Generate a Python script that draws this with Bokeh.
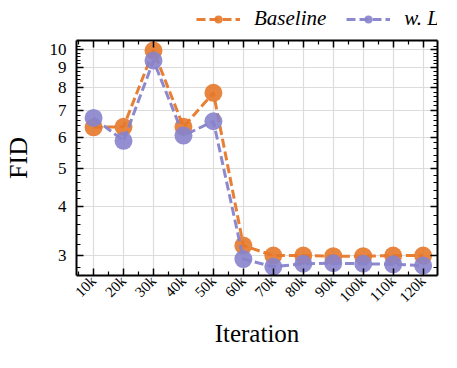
import math
from bokeh.plotting import figure
from bokeh.layouts import column
from bokeh.models import (FixedTicker, LinearAxis, LogAxis, Legend, LegendItem,
                          PrintfTickFormatter, ColumnDataSource)
from bokeh.embed import file_html
from bokeh.resources import INLINE

iterations = [10, 20, 30, 40, 50, 60, 70, 80, 90, 100, 110, 120]
tick_labels = ["10k", "20k", "30k", "40k", "50k", "60k", "70k", "80k", "90k", "100k", "110k", "120k"]
baseline = [6.35, 6.37, 9.95, 6.37, 7.77, 3.18, 3.00, 3.00, 2.99, 2.99, 3.00, 3.00]
lpl = [6.71, 5.87, 9.38, 6.05, 6.58, 2.94, 2.81, 2.86, 2.87, 2.86, 2.85, 2.83]
y_ticks = [3, 4, 5, 6, 7, 8, 9, 10]
y_minor = [2.8, 3.2, 3.4, 3.6, 3.8, 4.2, 4.4, 4.6, 4.8, 5.2, 5.4, 5.6, 5.8,
           6.2, 6.4, 6.6, 6.8, 7.2, 7.4, 7.6, 7.8, 8.2, 8.4, 8.6, 8.8,
           9.2, 9.4, 9.6, 9.8, 10.2]
x_minor = [5, 15, 25, 35, 45, 55, 65, 75, 85, 95, 105, 115, 125]

ORANGE = "#E6782A"
PURPLE = "#8783CB"
FONT = "Liberation Serif"

src = ColumnDataSource(dict(x=iterations, base=baseline, lpl=lpl))

# ---------------- legend strip (above the chart) ----------------
pl = figure(width=441, height=32, x_range=(0, 1), y_range=(0, 1),
            output_backend="svg", toolbar_location=None,
            x_axis_location=None, y_axis_location=None,
            min_border=0, min_border_left=0, min_border_right=0,
            min_border_top=0, min_border_bottom=0)
pl.grid.visible = False
pl.outline_line_color = None
ll1 = pl.line("x", "base", source=src, line_color=ORANGE, line_width=3, line_dash="9 4", line_alpha=0.95)
ls1 = pl.scatter("x", "base", source=src, size=18, fill_color=ORANGE, fill_alpha=0.9, line_color=None)
ll2 = pl.line("x", "lpl", source=src, line_color=PURPLE, line_width=3, line_dash="9 4", line_alpha=0.95)
ls2 = pl.scatter("x", "lpl", source=src, size=18, fill_color=PURPLE, fill_alpha=0.9, line_color=None)

legend = Legend(items=[LegendItem(label="Baseline", renderers=[ll1, ls1]),
                       LegendItem(label="w. LPL", renderers=[ll2, ls2])],
                orientation="horizontal", location=(120, 1))
legend.label_text_font = FONT
legend.label_text_font_style = "italic"
legend.label_text_font_size = "21px"
legend.label_text_color = "black"
legend.border_line_color = None
legend.background_fill_alpha = 0
legend.glyph_width = 44
legend.glyph_height = 20
legend.spacing = 20
legend.label_standoff = 14
legend.padding = 2
legend.margin = 0
pl.add_layout(legend)

# ---------------- main chart ----------------
p = figure(width=441, height=320, y_axis_type="log",
           x_range=(4.3, 124.8), y_range=(2.67, 10.55),
           output_backend="svg", toolbar_location=None,
           min_border_left=69, min_border_top=6, min_border_bottom=77, min_border_right=2)

xt = FixedTicker(ticks=iterations, minor_ticks=x_minor)
yt = FixedTicker(ticks=y_ticks, minor_ticks=y_minor)

def style_axis(ax):
    ax.axis_line_width = 2
    ax.axis_line_color = "black"
    ax.major_tick_in = 7
    ax.major_tick_out = 0
    ax.minor_tick_in = 4
    ax.minor_tick_out = 0
    ax.major_tick_line_width = 1.5
    ax.minor_tick_line_width = 1.2
    ax.major_label_text_font = FONT
    ax.major_label_text_font_size = "16px"
    ax.major_label_text_color = "black"

xa = p.xaxis[0]
xa.ticker = xt
xa.major_label_overrides = {v: t for v, t in zip(iterations, tick_labels)}
xa.major_label_orientation = math.pi / 4
style_axis(xa)
xa.major_label_text_font_size = "15px"
xa.major_label_standoff = 3
xa.axis_label = "Iteration"
xa.axis_label_text_font = FONT
xa.axis_label_text_font_size = "25px"
xa.axis_label_text_font_style = "normal"
xa.axis_label_text_color = "black"
xa.axis_label_standoff = 6

ya = p.yaxis[0]
ya.ticker = yt
ya.formatter = PrintfTickFormatter(format="%d")
style_axis(ya)
ya.major_label_text_font_size = "17px"
ya.major_label_standoff = 10
ya.axis_label = "FID"
ya.axis_label_text_font = FONT
ya.axis_label_text_font_size = "26px"
ya.axis_label_text_font_style = "normal"
ya.axis_label_text_color = "black"
ya.axis_label_standoff = 14

top = LinearAxis(ticker=xt)
style_axis(top)
top.major_label_overrides = {v: " " for v in iterations}
top.major_label_text_font_size = "4px"
top.major_label_standoff = 0
p.add_layout(top, "above")
right = LogAxis(ticker=yt, formatter=PrintfTickFormatter(format="%d"))
style_axis(right)
right.major_label_overrides = {v: " " for v in y_ticks}
right.major_label_text_font_size = "4px"
right.major_label_standoff = 0
p.add_layout(right, "right")

p.xgrid.ticker = xt
p.ygrid.ticker = yt
p.grid.grid_line_color = "#dcdcdc"
p.grid.grid_line_width = 1.2
p.outline_line_color = None

p.line("x", "base", source=src, line_color=ORANGE, line_width=3, line_dash="9 4", line_alpha=0.95)
p.scatter("x", "base", source=src, size=18, fill_color=ORANGE, fill_alpha=0.9, line_color=None)
p.line("x", "lpl", source=src, line_color=PURPLE, line_width=3, line_dash="9 4", line_alpha=0.95)
p.scatter("x", "lpl", source=src, size=18, fill_color=PURPLE, fill_alpha=0.9, line_color=None)

layout = column(pl, p, spacing=0)
open("out.html", "w").write(file_html(layout, INLINE))
